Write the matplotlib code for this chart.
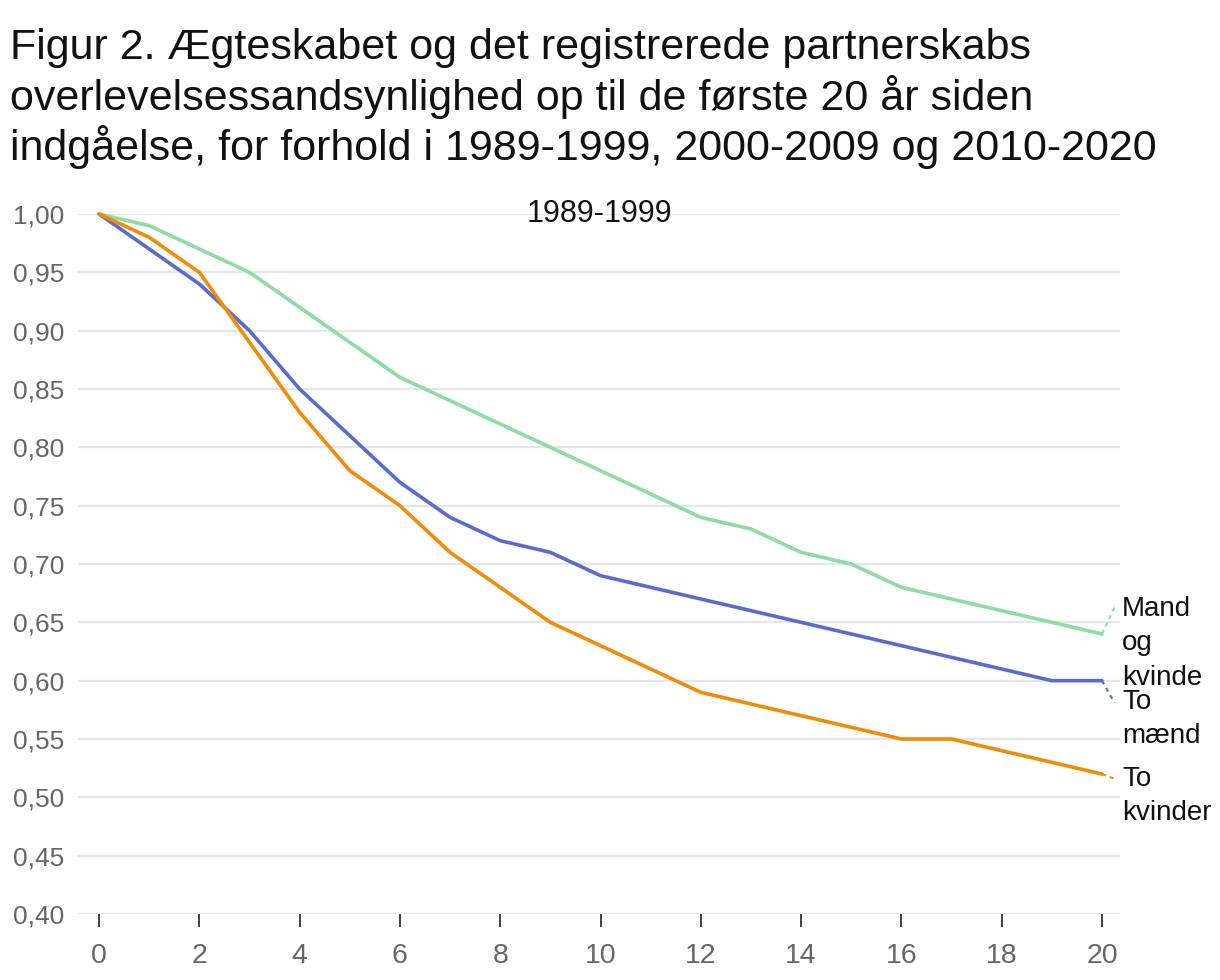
import matplotlib
matplotlib.use("Agg")
import matplotlib.pyplot as plt

years = list(range(0, 21))
mand_og_kvinde = [1.00, 0.99, 0.97, 0.95, 0.92, 0.89, 0.86, 0.84, 0.82, 0.80, 0.78,
                  0.76, 0.74, 0.73, 0.71, 0.70, 0.68, 0.67, 0.66, 0.65, 0.64]
to_maend = [1.00, 0.97, 0.94, 0.90, 0.85, 0.81, 0.77, 0.74, 0.72, 0.71, 0.69,
            0.68, 0.67, 0.66, 0.65, 0.64, 0.63, 0.62, 0.61, 0.60, 0.60]
to_kvinder = [1.00, 0.98, 0.95, 0.89, 0.83, 0.78, 0.75, 0.71, 0.68, 0.65, 0.63,
              0.61, 0.59, 0.58, 0.57, 0.56, 0.55, 0.55, 0.54, 0.53, 0.52]
series_names = ["Mand\nog\nkvinde", "To\nmænd", "To\nkvinder"]
label_y = [0.632, 0.567, 0.501]
connector_y = [0.663, 0.581, 0.516]
colors = ["#8cdca4", "#5a6bd0", "#f28c06"]
xticks = list(range(0, 21, 2))
yticks = [0.40, 0.45, 0.50, 0.55, 0.60, 0.65, 0.70, 0.75, 0.80, 0.85, 0.90, 0.95, 1.00]

plt.rcParams['font.family'] = ['Liberation Sans', 'DejaVu Sans']

fig = plt.figure(figsize=(12.2, 9.8), dpi=100)
ax = fig.add_axes([78/1220, 1-914/980, (1120-78)/1220, (914-214)/980])

for vals, col in zip([mand_og_kvinde, to_maend, to_kvinder], colors):
    ax.plot(years, vals, color=col, lw=2.6, clip_on=False, zorder=3, solid_capstyle='round')

# end labels with dotted connectors
for vals, col, name, ly, cy in zip([mand_og_kvinde, to_maend, to_kvinder], colors,
                                   series_names, label_y, connector_y):
    ax.plot([years[-1], years[-1] + 0.25], [vals[-1], cy], color=col, lw=1.5,
            ls=(0, (2, 2)), clip_on=False, zorder=3)
    ax.text(years[-1] + 0.4, ly, name, ha='left', va='center',
            fontsize=20, color='#111111', linespacing=1.42)

ax.set_xlim(-0.42, 20.36)
ax.set_ylim(0.40, 1.00)
ax.set_xticks(xticks)
ax.set_yticks(yticks)
ax.set_yticklabels([f"{v:.2f}".replace('.', ',') for v in yticks])
ax.grid(axis='y', color='#e6e6e6', lw=1.6)
ax.set_axisbelow(True)
for s in ax.spines.values():
    s.set_visible(False)
ax.tick_params(axis='y', length=0, labelsize=19, labelcolor='#666666', pad=10)
ax.tick_params(axis='x', length=9, width=1.3, color='#333333', labelsize=20.5,
               labelcolor='#666666', pad=12)

ax.text(0.5, 1.0, "1989-1999", transform=ax.transAxes, ha='center', va='center',
        fontsize=22, color='#111111')

fig.text(10/1220, 1-28/980,
         "Figur 2. Ægteskabet og det registrerede partnerskabs\n"
         "overlevelsessandsynlighed op til de første 20 år siden\n"
         "indgåelse, for forhold i 1989-1999, 2000-2009 og 2010-2020",
         ha='left', va='top', fontsize=31, color='#111111', linespacing=1.19)

fig.savefig("out.png", dpi=100)
